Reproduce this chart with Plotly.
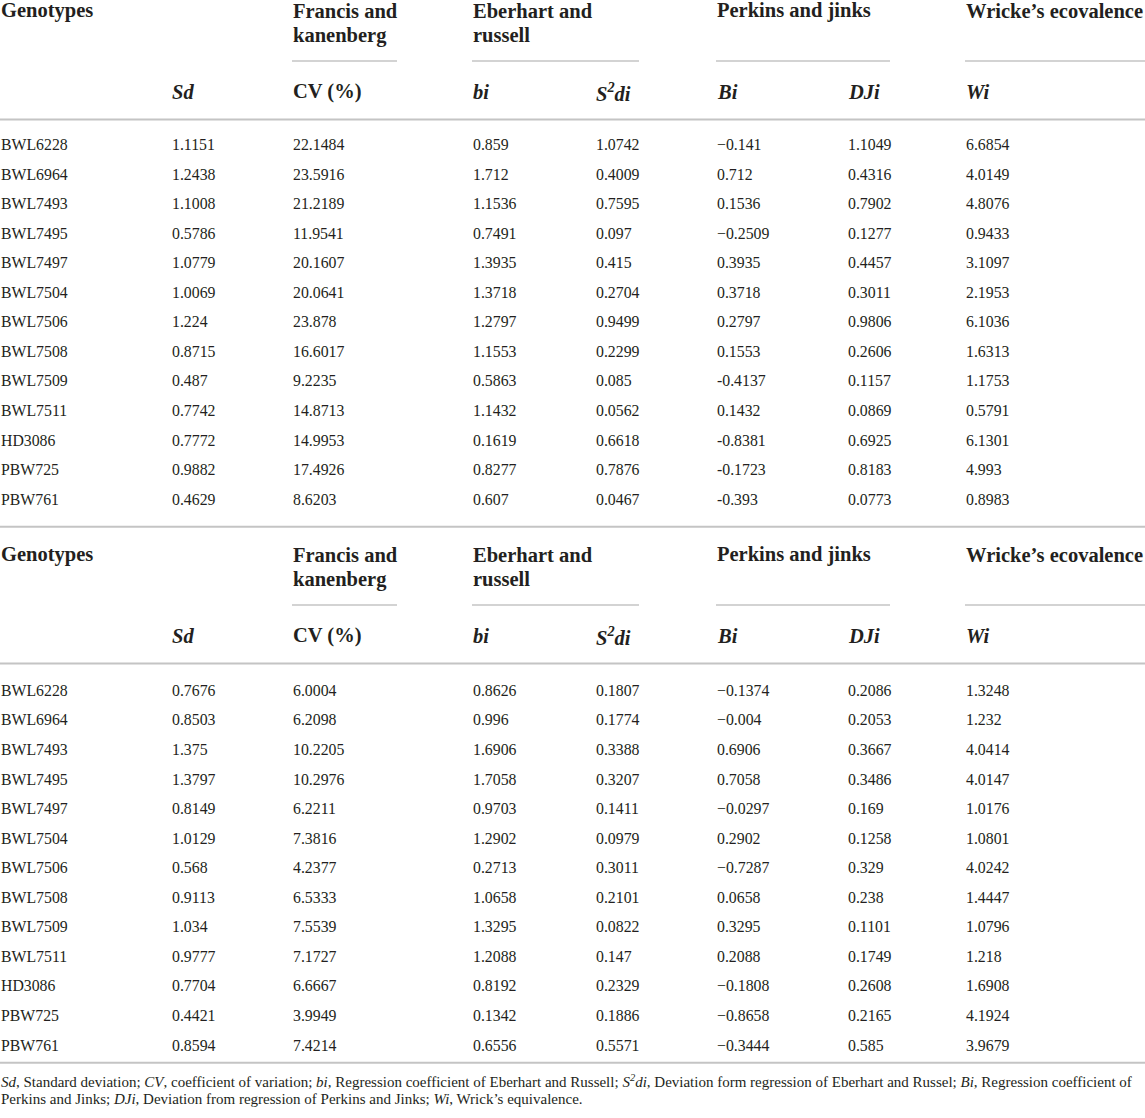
import plotly.graph_objects as go

# table content
genotypes = ["BWL6228", "BWL6964", "BWL7493", "BWL7495", "BWL7497", "BWL7504", "BWL7506",
             "BWL7508", "BWL7509", "BWL7511", "HD3086", "PBW725", "PBW761"]

# group headers, one list per header line
group_line1 = ["Genotypes", "Francis and", "Eberhart and", "Perkins and jinks",
               "Wricke\u2019s ecovalence"]
group_line2 = ["", "kanenberg", "russell", "", ""]
sub_headers = ["", "<i>Sd</i>", "CV (%)", "<i>bi</i>", "<i>S<sup>2</sup>di</i>",
               "<i>Bi</i>", "<i>DJi</i>", "<i>Wi</i>"]

# block 1
sd_1 = ["1.1151", "1.2438", "1.1008", "0.5786", "1.0779", "1.0069", "1.224", "0.8715",
        "0.487", "0.7742", "0.7772", "0.9882", "0.4629"]
cv_1 = ["22.1484", "23.5916", "21.2189", "11.9541", "20.1607", "20.0641", "23.878",
        "16.6017", "9.2235", "14.8713", "14.9953", "17.4926", "8.6203"]
bi_1 = ["0.859", "1.712", "1.1536", "0.7491", "1.3935", "1.3718", "1.2797", "1.1553",
        "0.5863", "1.1432", "0.1619", "0.8277", "0.607"]
s2di_1 = ["1.0742", "0.4009", "0.7595", "0.097", "0.415", "0.2704", "0.9499", "0.2299",
          "0.085", "0.0562", "0.6618", "0.7876", "0.0467"]
Bi_1 = ["\u22120.141", "0.712", "0.1536", "\u22120.2509", "0.3935", "0.3718", "0.2797",
        "0.1553", "-0.4137", "0.1432", "-0.8381", "-0.1723", "-0.393"]
dji_1 = ["1.1049", "0.4316", "0.7902", "0.1277", "0.4457", "0.3011", "0.9806", "0.2606",
         "0.1157", "0.0869", "0.6925", "0.8183", "0.0773"]
wi_1 = ["6.6854", "4.0149", "4.8076", "0.9433", "3.1097", "2.1953", "6.1036", "1.6313",
        "1.1753", "0.5791", "6.1301", "4.993", "0.8983"]

# block 2
sd_2 = ["0.7676", "0.8503", "1.375", "1.3797", "0.8149", "1.0129", "0.568", "0.9113",
        "1.034", "0.9777", "0.7704", "0.4421", "0.8594"]
cv_2 = ["6.0004", "6.2098", "10.2205", "10.2976", "6.2211", "7.3816", "4.2377", "6.5333",
        "7.5539", "7.1727", "6.6667", "3.9949", "7.4214"]
bi_2 = ["0.8626", "0.996", "1.6906", "1.7058", "0.9703", "1.2902", "0.2713", "1.0658",
        "1.3295", "1.2088", "0.8192", "0.1342", "0.6556"]
s2di_2 = ["0.1807", "0.1774", "0.3388", "0.3207", "0.1411", "0.0979", "0.3011", "0.2101",
          "0.0822", "0.147", "0.2329", "0.1886", "0.5571"]
Bi_2 = ["\u22120.1374", "\u22120.004", "0.6906", "0.7058", "\u22120.0297", "0.2902",
        "\u22120.7287", "0.0658", "0.3295", "0.2088", "\u22120.1808", "\u22120.8658",
        "\u22120.3444"]
dji_2 = ["0.2086", "0.2053", "0.3667", "0.3486", "0.169", "0.1258", "0.329", "0.238",
         "0.1101", "0.1749", "0.2608", "0.2165", "0.585"]
wi_2 = ["1.3248", "1.232", "4.0414", "4.0147", "1.0176", "1.0801", "4.0242", "1.4447",
        "1.0796", "1.218", "1.6908", "4.1924", "3.9679"]

footnote_lines = [
    "<i>Sd</i>, Standard deviation; <i>CV</i>, coefficient of variation; <i>bi</i>, "
    "Regression coefficient of Eberhart and Russell; <i>S<sup>2</sup>di</i>, Deviation "
    "form regression of Eberhart and Russel; <i>Bi</i>, Regression coefficient of",
    "Perkins and Jinks; <i>DJi</i>, Deviation from regression of Perkins and Jinks; "
    "<i>Wi</i>, Wrick\u2019s equivalence.",
]

blocks = [
    [genotypes, sd_1, cv_1, bi_1, s2di_1, Bi_1, dji_1, wi_1],
    [genotypes, sd_2, cv_2, bi_2, s2di_2, Bi_2, dji_2, wi_2],
]

W, H = 1145, 1118
FONT = "Liberation Serif"
TEXT = "#231f20"
RULE = "#c4c4c4"

col_x = [0, 171, 292, 472, 595, 716, 847, 965]
group_x = [0, 292, 472, 716, 965]
span_rules = [(292, 397), (472, 639), (716, 890), (965, 1145)]
header_top = [0, 544]
rows_top = [144.5, 690.4]
bottom_rule = [526.7, 1062.7]
row_step = 29.55

fig = go.Figure()
annotations = []
shapes = []


def add_text(x, y, text, size):
    annotations.append(dict(x=x, y=y, xref="x", yref="y", text=text, showarrow=False,
                            xanchor="left", yanchor="middle", align="left", borderpad=0,
                            font=dict(family=FONT, size=size, color=TEXT)))


def add_rule(x0, x1, y, width, color=RULE):
    shapes.append(dict(type="line", xref="x", yref="y", x0=x0, x1=x1, y0=y, y1=y,
                       line=dict(color=color, width=width)))


for b, cols in enumerate(blocks):
    top = header_top[b]
    # group headers
    for gx, l1, l2 in zip(group_x, group_line1, group_line2):
        add_text(gx, top + 10.5, "<b>" + l1 + "</b>", 20.5)
        if l2:
            add_text(gx, top + 35, "<b>" + l2 + "</b>", 20.5)
    for x0, x1 in span_rules:
        add_rule(x0, x1, top + 61, 1.3)
    # sub headers
    for cx, label in zip(col_x, sub_headers):
        if label:
            add_text(cx, top + 91.5, "<b>" + label + "</b>", 20.5)
    add_rule(0, W, top + 119.5, 2)
    # body
    for c, values in enumerate(cols):
        for r, v in enumerate(values):
            add_text(col_x[c], rows_top[b] + r * row_step, v, 15.8)
    add_rule(0, W, bottom_rule[b], 2)

# footnote
for i, line in enumerate(footnote_lines):
    add_text(0, 1081 + i * 17.5, line, 15)

fig.update_layout(
    width=W, height=H,
    margin=dict(l=0, r=0, t=0, b=0),
    paper_bgcolor="white", plot_bgcolor="white",
    xaxis=dict(range=[0, W], visible=False, fixedrange=True),
    yaxis=dict(range=[H, 0], visible=False, fixedrange=True),
    annotations=annotations,
    shapes=shapes,
    showlegend=False,
)

fig.write_html("out.html", config={"displayModeBar": False},
               post_script="document.body.style.margin = '0';")
